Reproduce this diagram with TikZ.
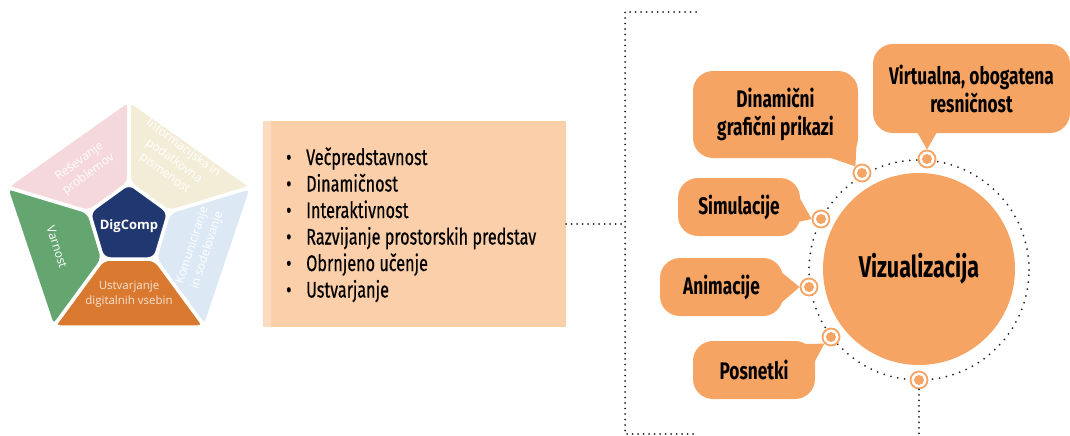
\documentclass[tikz,border=0pt]{standalone}
\usepackage{fontspec}
\setmainfont{Open Sans}
\newfontfamily\cond[FakeStretch=0.72]{Fira Sans}
\newfontfamily\condlist[FakeStretch=0.72, FakeBold=0.5]{Fira Sans}
\usetikzlibrary{calc}

\definecolor{vizorange}{HTML}{F6A464}
\definecolor{listpeach}{HTML}{FBCFA9}
\definecolor{listedge}{HTML}{FCDCC0}
\definecolor{dcnavy}{HTML}{21376F}
\definecolor{dcpink}{HTML}{F5D8DC}
\definecolor{dccream}{HTML}{F3EDD8}
\definecolor{dcblue}{HTML}{DCE9F5}
\definecolor{dcgreen}{HTML}{64A570}
\definecolor{dcorange}{HTML}{D8792F}
\definecolor{dotgrey}{HTML}{222222}

\tikzset{
  sector/.style={draw=white, line width=3.5pt, rounded corners=7pt, line join=round},
  sectortext/.style={text=white, font=\fontsize{12}{15.5}\selectfont, align=center, inner sep=0pt},
  dotline/.style={dotgrey, line width=2pt, line cap=round, dash pattern=on 0pt off 5.5pt},
  dotring/.style={dotgrey, line width=2pt, line cap=round, dash pattern=on 0pt off 7pt},
  bubble/.style={fill=vizorange, rounded corners=20pt, inner sep=0pt, align=center,
    font=\cond\bfseries\fontsize{24}{28}\selectfont},
  marker/.style={circle, draw=vizorange, line width=1.8pt, fill=white, minimum size=17pt,
    inner sep=0pt, path picture={\fill[vizorange] (path picture bounding box.center) circle (5pt);}},
  listitem/.style={anchor=base west, inner sep=0pt, font=\condlist\fontsize{22.5}{26}\selectfont},
}

\begin{document}
\begin{tikzpicture}[x=1pt, y=-1pt]
\useasboundingbox (0,0) rectangle (1070,436);

% ---------- DigComp pentagon ----------
\coordinate (it) at (129,183);
\coordinate (il) at (89,212);
\coordinate (ir) at (169,212);
\coordinate (ibl) at (103,259);
\coordinate (ibr) at (155,259);
\coordinate (ot) at (129,100);
\coordinate (ol) at (6,187);
\coordinate (or) at (252,187);
\coordinate (obl) at (53,327);
\coordinate (obr) at (205,327);

\filldraw[sector, fill=dcpink] (il) -- (it) -- (ot) -- (ol) -- cycle;
\filldraw[sector, fill=dccream] (it) -- (ir) -- (or) -- (ot) -- cycle;
\filldraw[sector, fill=dcblue] (ir) -- (ibr) -- (obr) -- (or) -- cycle;
\filldraw[sector, fill=dcorange] (ibr) -- (ibl) -- (obl) -- (obr) -- cycle;
\filldraw[sector, fill=dcgreen] (ibl) -- (il) -- (ol) -- (obl) -- cycle;
\filldraw[sector, fill=dcnavy] (it) -- (ir) -- (ibr) -- (ibl) -- (il) -- cycle;

\node[sectortext, font=\bfseries\fontsize{13}{15}\selectfont] (dig) at (129,226) {DigComp};
\node[sectortext, rotate=36] (res) at (84,168) {Reševanje\\problemov};
\node[sectortext, rotate=-36] (inf) at (174,161) {Informacijska in\\podatkovna\\pismenost};
\node[sectortext, rotate=72] (kom) at (200,248) {Komuniciranje\\in sodelovanje};
\node[sectortext, rotate=-72] (var) at (57,247) {Varnost};
\node[sectortext, text=white!80!dcorange, font=\fontsize{11.5}{15}\selectfont] (ust) at (129,294) {Ustvarjanje\\digitalnih vsebin};

% ---------- list box ----------
\node[fill=listpeach, minimum width=303pt, minimum height=206pt, inner sep=0pt] (listbox) at (414.5,224) {};
\fill[listedge] (listbox.north west) rectangle ($(listbox.south west)+(8,0)$);
\node[listitem] (l1) at (286,165) {\makebox[20pt][l]{•}Večpredstavnost};
\node[listitem] (l2) at (286,191.5) {\makebox[20pt][l]{•}Dinamičnost};
\node[listitem] (l3) at (286,218) {\makebox[20pt][l]{•}Interaktivnost};
\node[listitem] (l4) at (286,244.5) {\makebox[20pt][l]{•}Razvijanje prostorskih predstav};
\node[listitem] (l5) at (286,271) {\makebox[20pt][l]{•}Obrnjeno učenje};
\node[listitem] (l6) at (286,297.5) {\makebox[20pt][l]{•}Ustvarjanje};

% ---------- bracket ----------
\coordinate (bt) at (625,12);
\coordinate (bte) at (696,12);
\coordinate (bb) at (625,434);
\coordinate (bbe) at (696,434);
\coordinate (bm) at (625,224);
\draw[dotline] (bte) -- (bt) -- (bb) -- (bbe);
\draw[dotline] (listbox.east) -- (bm);

% ---------- visualisation hub ----------
\coordinate (hub) at (919,270);
\draw[dotring] (hub) circle (110pt);
\node[circle, fill=vizorange, minimum size=192pt, inner sep=0pt,
  font=\cond\bfseries\fontsize{30}{34}\selectfont] (viz) at (919,269) {Vizualizacija};

% callouts
\node[bubble, minimum width=165pt, minimum height=87pt] (din) at (775.5,114.5) {Dinamični\\grafični prikazi};
\node[bubble, minimum width=197pt, minimum height=89pt] (vir) at (971.5,88.5) {Virtualna, obogatena\\resničnost};
\node[bubble, minimum width=122pt, minimum height=58pt] (sim) at (739,207) {Simulacije};
\node[bubble, minimum width=123pt, minimum height=58pt] (ani) at (721.5,287) {Animacije};
\node[bubble, minimum width=122pt, minimum height=58pt] (pos) at (754,370) {Posnetki};

% markers on the ring
\node[marker] (m1) at (927,159) {};
\node[marker] (m2) at (862,173) {};
\node[marker] (m3) at (821,219) {};
\node[marker] (m4) at (809,287) {};
\node[marker] (m5) at (831,337) {};
\node[marker] (m6) at (919,380) {};

% callout tails pointing at the markers
\fill[vizorange] (828,157) -- (857,138) -- (m2.north west) -- cycle;
\fill[vizorange] (917,132) -- (937,132) -- (m1.north) -- cycle;
\fill[vizorange] (798,195) -- (m3.west) -- (798,222) -- cycle;
\fill[vizorange] (781,272) -- (m4.west) -- (781,303) -- cycle;
\fill[vizorange] (800,344) -- (m5.south west) -- (814,363) -- cycle;

% line leaving the bottom marker
\coordinate (down) at (919,436);
\draw[dotline] (m6.south) -- (down);
\end{tikzpicture}
\end{document}
